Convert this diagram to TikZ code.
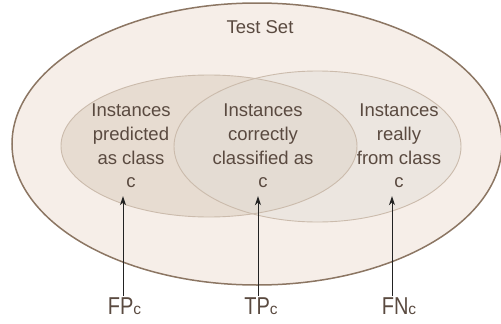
\documentclass[tikz,border=0pt]{standalone}
\usepackage{fontspec}
\setmainfont{Liberation Sans}
\usetikzlibrary{arrows.meta}
\definecolor{setfill}{HTML}{F6EEE8}
\definecolor{setline}{HTML}{8C7663}
\definecolor{predfill}{HTML}{E7DCD1}
\definecolor{realfill}{HTML}{E1DDD7}
\definecolor{subline}{HTML}{CBBBAC}
\definecolor{txt}{HTML}{5A4A40}
\definecolor{arrowcol}{HTML}{222222}
\tikzset{
  settext/.style={text=txt, font=\fontsize{18.5}{23.7}\selectfont, align=center, inner sep=0pt},
  rate/.style={text=txt, inner sep=0pt, anchor=base},
  arr/.style={draw=arrowcol, line width=1pt, -{Stealth[length=9pt,width=6pt]}},
  subset/.style={draw=subline, line width=0.9pt}
}
\newcommand{\ratelabel}[2]{\scalebox{1}[1.22]{\fontsize{20}{22}\selectfont #1}{\fontsize{15.5}{18}\selectfont #2}}
\begin{document}
\begin{tikzpicture}[x=1pt,y=-1pt]
  \useasboundingbox (0,0) rectangle (501,324);
  % whole test set
  \draw[fill=setfill, draw=setline, line width=1.5pt] (257,144) ellipse [x radius=245, y radius=141];
  % predicted and real class c
  \fill[predfill] (209,146) ellipse [x radius=148, y radius=71];
  \fill[realfill, fill opacity=0.47] (317.5,146.5) ellipse [x radius=143.5, y radius=75.5];
  \draw[subset] (209,146) ellipse [x radius=148, y radius=71];
  \draw[subset] (317.5,146.5) ellipse [x radius=143.5, y radius=75.5];

  \node[settext, anchor=base] (title) at (260,33) {Test Set};
  \node[settext] (pred) at (131,146) {Instances\\predicted\\as class\\c};
  \node[settext] (corr) at (263,146) {Instances\\correctly\\classified as\\c};
  \node[settext] (real) at (399,146) {Instances\\really\\from class\\c};

  \node[rate] (fp) at (124.5,314) {\ratelabel{FP}{c}};
  \node[rate] (tp) at (261,314) {\ratelabel{TP}{c}};
  \node[rate] (fn) at (399,314) {\ratelabel{FN}{c}};

  \coordinate (fpx) at (123,0);
  \coordinate (tpx) at (258,0);
  \coordinate (fnx) at (392,0);
  \draw[arr] (fp.north -| fpx) ++(0,-1) -- ([yshift=-8pt]pred.south -| fpx);
  \draw[arr] (tp.north -| tpx) ++(0,-1) -- ([yshift=-8pt]corr.south -| tpx);
  \draw[arr] (fn.north -| fnx) ++(0,-1) -- ([yshift=-8pt]real.south -| fnx);
\end{tikzpicture}
\end{document}
